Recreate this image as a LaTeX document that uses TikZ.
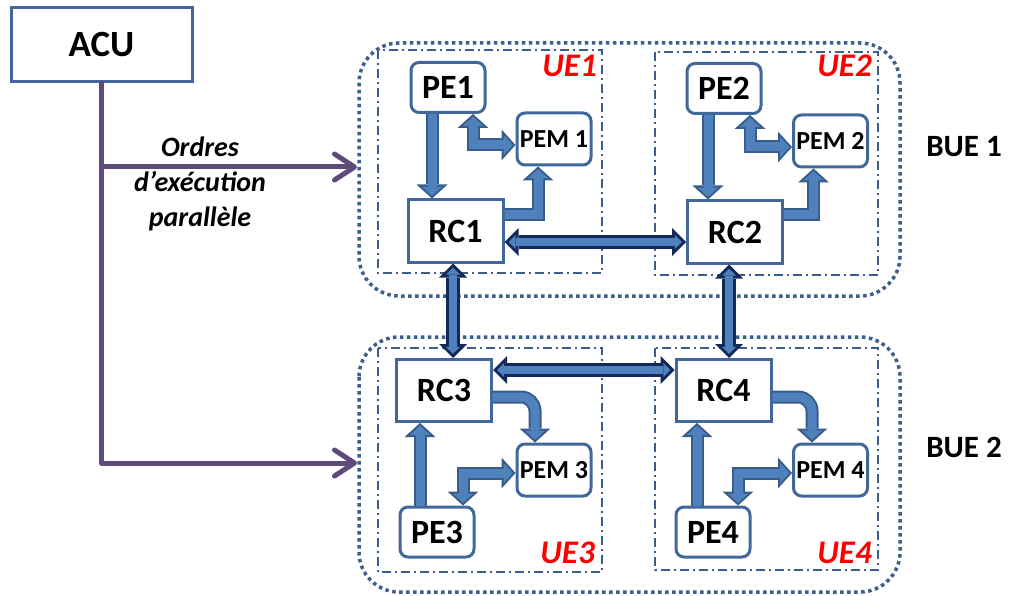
\documentclass[tikz,border=0pt]{standalone}
\usepackage{fontspec}
\setmainfont{Carlito}
\usetikzlibrary{arrows.meta,calc}
\definecolor{boxc}{HTML}{41689A}
\definecolor{bfill}{HTML}{4F81BD}
\definecolor{bout}{HTML}{385D8A}
\definecolor{navy}{HTML}{12295A}
\definecolor{purp}{HTML}{604A7B}
\definecolor{buec}{HTML}{3B5E8C}
\definecolor{uered}{HTML}{FF0000}
\newcommand{\dblpass}[3]{\draw[#1] #3; \draw[#2] #3;}
\tikzset{
  boxbase/.style={draw=boxc, line width=3pt, fill=white, inner sep=0pt},
  pebox/.style={boxbase, rounded corners=8pt, minimum width=74pt, minimum height=50pt, font=\fontsize{34}{40}\selectfont\bfseries},
  pembox/.style={boxbase, rounded corners=8pt, minimum width=74pt, minimum height=52pt, font=\fontsize{26}{31}\selectfont\bfseries},
  rcbox/.style={boxbase, minimum width=95pt, minimum height=62pt, font=\fontsize{34}{40}\selectfont\bfseries},
  acubox/.style={boxbase, minimum width=181pt, minimum height=74pt, font=\fontsize{37}{43}\selectfont\bfseries},
  bueframe/.style={draw=buec, line width=3.5pt, dash pattern=on 3.5pt off 3.5pt, rounded corners=40pt},
  ueframe/.style={draw=buec, line width=1.5pt, dash pattern=on 9pt off 4pt on 2pt off 4pt},
  uelabel/.style={text=uered, font=\fontsize{33}{39}\selectfont\bfseries\itshape, inner sep=0pt},
  buelabel/.style={font=\fontsize{31}{37}\selectfont\bfseries, inner sep=0pt},
  ioF/.style={line width=13pt, draw=bout, -{Triangle[length=14pt,width=31pt,line width=0pt]}},
  iiF/.style={line width=9pt, draw=bfill, shorten >=2.65pt, -{Triangle[length=9.3pt,width=20.3pt,line width=0pt]}},
  ioB/.style={line width=13pt, draw=bout, {Triangle[length=14pt,width=31pt,line width=0pt]}-{Triangle[length=14pt,width=31pt,line width=0pt]}},
  iiB/.style={line width=9pt, draw=bfill, shorten >=2.65pt, shorten <=2.65pt, {Triangle[length=9.3pt,width=20.3pt,line width=0pt]}-{Triangle[length=9.3pt,width=20.3pt,line width=0pt]}},
  noB/.style={line width=14pt, draw=navy, {Triangle[length=14pt,width=28pt,line width=0pt]}-{Triangle[length=14pt,width=28pt,line width=0pt]}},
  niB/.style={line width=8pt, draw=bfill, shorten >=4.24pt, shorten <=4.24pt, {Triangle[length=6.8pt,width=13.6pt,line width=0pt]}-{Triangle[length=6.8pt,width=13.6pt,line width=0pt]}},
  purpline/.style={draw=purp, line width=5pt, line join=round, line cap=round},
  purparrow/.style={purpline, -{Straight Barb[length=20pt,width=26pt,round]}}
}
\begin{document}
\begin{tikzpicture}[x=1pt,y=-1pt]
\useasboundingbox (0,0) rectangle (1009,596);
% frames
\draw[bueframe] (359,43) rectangle (900,296);
\draw[bueframe] (359,337) rectangle (900,592);
\draw[ueframe] (378,50) rectangle (602,273);
\draw[ueframe] (655,52) rectangle (878,275);
\draw[ueframe] (378,348) rectangle (602,572);
\draw[ueframe] (655,348) rectangle (878,570);
% labels
\node[uelabel, anchor=base east] (ue1) at (597,77) {UE1};
\node[uelabel, anchor=base east] (ue2) at (872,77) {UE2};
\node[uelabel, anchor=base east] (ue3) at (595,563) {UE3};
\node[uelabel, anchor=base east] (ue4) at (872,563) {UE4};
\node[buelabel, anchor=base] (bue1) at (964,157) {BUE 1};
\node[buelabel, anchor=base] (bue2) at (964,457) {BUE 2};
% boxes
\node[acubox] (ACU) at (101.5,45) {ACU};
\node[pebox] (PE1) at (448,87.5) {PE1};
\node[pembox] (PEM1) at (554,139) {PEM 1};
\node[rcbox] (RC1) at (455.5,231) {RC1};
\node[pebox] (PE2) at (724,88.5) {PE2};
\node[pembox] (PEM2) at (830.5,141) {PEM 2};
\node[rcbox] (RC2) at (735,232) {RC2};
\node[rcbox] (RC3) at (444,390.5) {RC3};
\node[pembox] (PEM3) at (554,470) {PEM 3};
\node[pebox] (PE3) at (437,532) {PE3};
\node[rcbox] (RC4) at (723.5,390.5) {RC4};
\node[pembox] (PEM4) at (830.5,470) {PEM 4};
\node[pebox] (PE4) at (713,532) {PE4};
% purple orders
\coordinate (t1) at (357,167);
\coordinate (t2) at (357,463);
\draw[purparrow] (ACU.south) |- (t2);
\draw[purparrow] (ACU.south |- t1) -- (t1);
\node[font=\fontsize{28}{35}\selectfont\bfseries\itshape, align=center, inner sep=0pt] (ord) at (200,184) {Ordres\\d’exécution\\parallèle};
% UE1 arrows
\dblpass{ioF}{iiF}{([xshift=-16pt]PE1.south) -- ([xshift=-16pt]PE1.south |- RC1.north)}
\dblpass{ioB}{iiB}{([yshift=-6pt]PEM1.west) -| ([xshift=25pt]PE1.south)}
\dblpass{ioF}{iiF}{([yshift=16pt]RC1.east) -| ([xshift=-16pt]PEM1.south)}
% UE2 arrows
\dblpass{ioF}{iiF}{([xshift=-16pt]PE2.south) -- ([xshift=-16pt]PE2.south |- RC2.north)}
\dblpass{ioB}{iiB}{([yshift=-6pt]PEM2.west) -| ([xshift=26pt]PE2.south)}
\dblpass{ioF}{iiF}{([yshift=17pt]RC2.east) -| ([xshift=-17pt]PEM2.south)}
% UE3 arrows
\dblpass{ioF}{iiF}{([xshift=-17pt]PE3.north) -- ([xshift=-17pt]PE3.north |- RC3.south)}
\dblpass{ioF,rounded corners=14pt}{iiF,rounded corners=14pt}{([yshift=-6.5pt]RC3.east) -| ([xshift=-19pt]PEM3.north)}
\dblpass{ioB}{iiB}{([yshift=-3pt]PEM3.west) -| ([xshift=26pt]PE3.north)}
% UE4 arrows
\dblpass{ioF}{iiF}{([xshift=-16pt]PE4.north) -- ([xshift=-16pt]PE4.north |- RC4.south)}
\dblpass{ioF,rounded corners=14pt}{iiF,rounded corners=14pt}{([yshift=-6.5pt]RC4.east) -| ([xshift=-18.5pt]PEM4.north)}
\dblpass{ioB}{iiB}{([yshift=-3pt]PEM4.west) -| ([xshift=25pt]PE4.north)}
% inter RC arrows
\dblpass{noB}{niB}{([yshift=-11pt]RC1.east) -- ([yshift=-11pt]RC1.east -| RC2.west)}
\dblpass{noB}{niB}{([xshift=-2.5pt]RC1.south) -- ([xshift=-2.5pt]RC1.south |- RC3.north)}
\dblpass{noB}{niB}{([xshift=-6pt]RC2.south) -- ([xshift=-6pt]RC2.south |- RC4.north)}
\dblpass{noB}{niB}{([yshift=20.5pt]RC3.east) -- ([yshift=20.5pt]RC3.east -| RC4.west)}
\end{tikzpicture}
\end{document}
